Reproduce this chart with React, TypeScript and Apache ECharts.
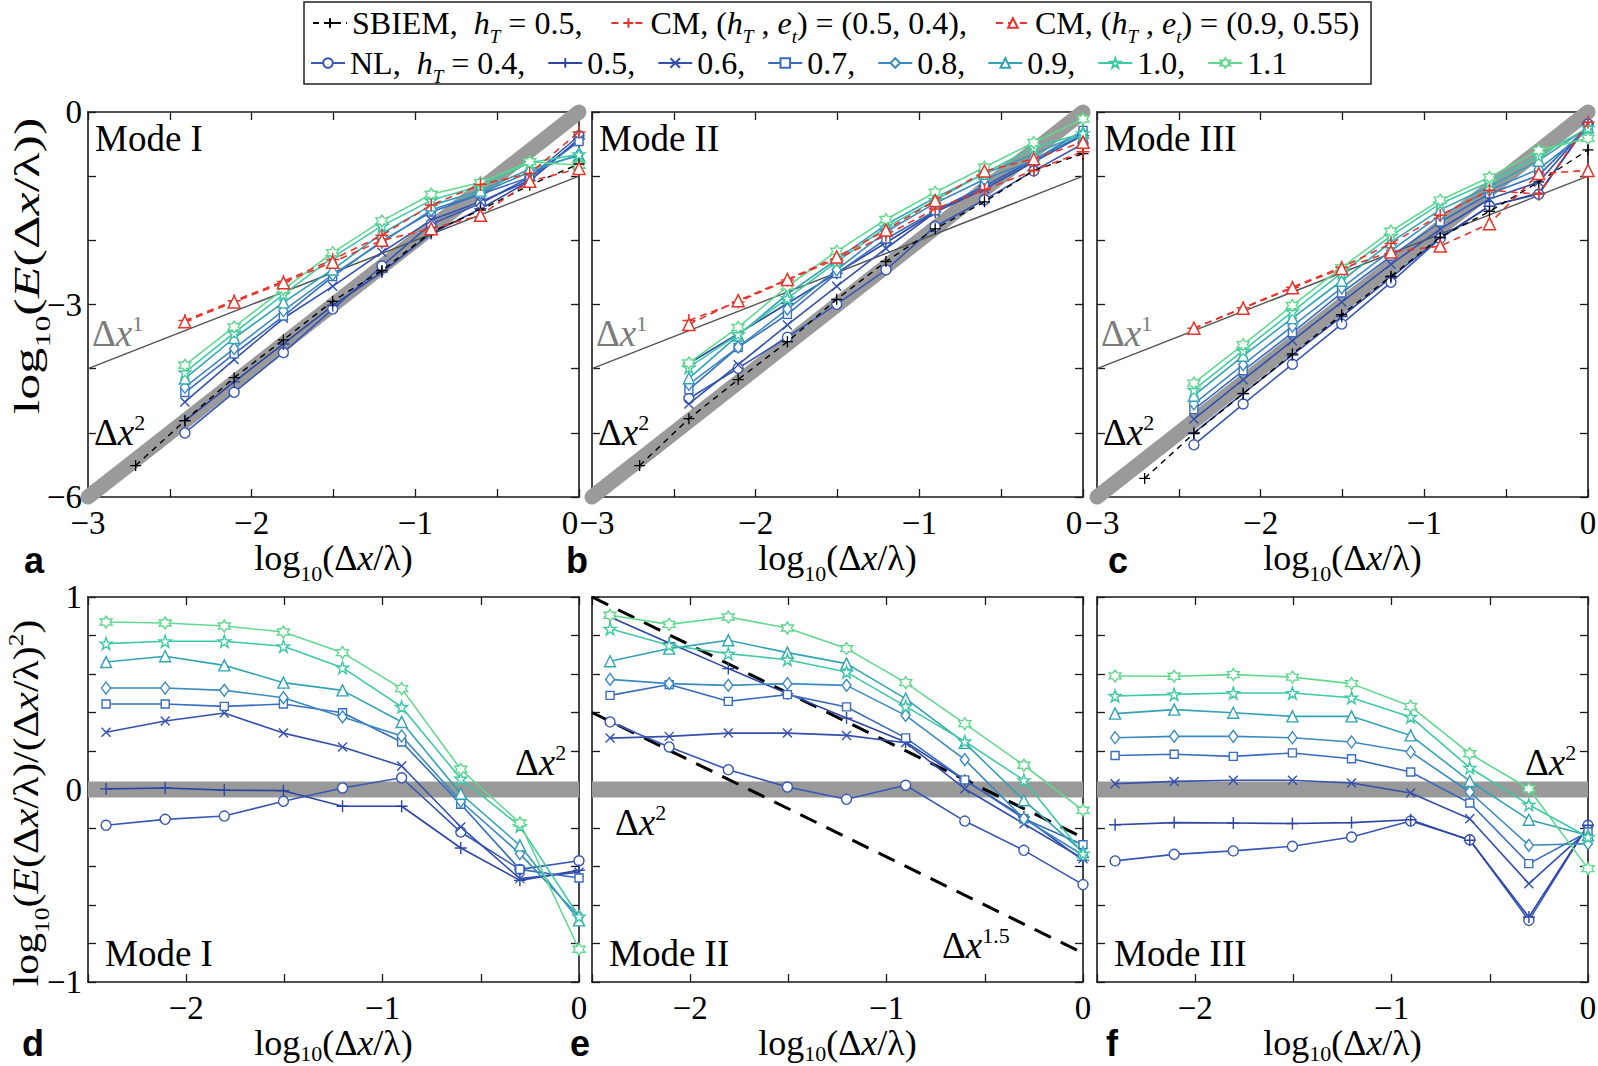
import React, { useEffect, useRef } from 'react';
import * as echarts from 'echarts';

const SERIF = "'Liberation Serif', 'Times New Roman', serif";
const SANS = "'Liberation Sans', Arial, sans-serif";

// x = log10(dx/lambda)
const xNL = [-2.408, -2.107, -1.806, -1.505, -1.204, -0.903, -0.602, -0.301, 0];
const xSBIEM = [-2.709, -2.408, -2.107, -1.806, -1.505, -1.204, -0.903, -0.602, -0.301, 0];

const hTLabels = ['0.4', '0.5', '0.6', '0.7', '0.8', '0.9', '1.0', '1.1'];

const normModeI = [
  [-0.186, -0.155, -0.138, -0.061, 0.008, 0.061, -0.221, -0.415, -0.37],
  [0.003, 0.008, -0.003, -0.006, -0.087, -0.087, -0.304, -0.472, -0.42],
  [0.297, 0.356, 0.397, 0.293, 0.221, 0.122, -0.195, -0.463, -0.43],
  [0.444, 0.444, 0.432, 0.444, 0.399, 0.247, -0.077, -0.415, -0.46],
  [0.527, 0.527, 0.515, 0.477, 0.377, 0.278, -0.061, -0.333, -0.66],
  [0.662, 0.692, 0.645, 0.555, 0.515, 0.351, -0.022, -0.29, -0.68],
  [0.758, 0.77, 0.77, 0.744, 0.633, 0.429, 0.056, -0.19, -0.66],
  [0.87, 0.865, 0.849, 0.818, 0.711, 0.524, 0.105, -0.174, -0.83],
];
const normModeII = [
  [0.351, 0.221, 0.103, 0.013, -0.051, 0.022, -0.164, -0.316, -0.494],
  [0.896, 0.761, 0.628, 0.498, 0.371, 0.247, 0.048, -0.143, -0.368],
  [0.267, 0.276, 0.293, 0.293, 0.281, 0.243, 0.004, -0.178, -0.36],
  [0.489, 0.545, 0.458, 0.493, 0.429, 0.268, 0.05, -0.152, -0.287],
  [0.572, 0.55, 0.541, 0.55, 0.541, 0.385, 0.155, -0.152, -0.34],
  [0.666, 0.732, 0.775, 0.711, 0.654, 0.472, 0.242, -0.056, -0.325],
  [0.835, 0.749, 0.706, 0.674, 0.61, 0.432, 0.25, 0.048, -0.333],
  [0.905, 0.858, 0.896, 0.839, 0.732, 0.555, 0.342, 0.126, -0.108],
];
const normModeIII = [
  [-0.371, -0.337, -0.319, -0.295, -0.247, -0.164, -0.261, -0.68, -0.186],
  [-0.183, -0.172, -0.174, -0.177, -0.172, -0.157, -0.264, -0.662, -0.186],
  [0.03, 0.042, 0.048, 0.048, 0.034, -0.018, -0.152, -0.489, -0.212],
  [0.177, 0.183, 0.172, 0.19, 0.16, 0.091, -0.07, -0.385, -0.221],
  [0.269, 0.276, 0.276, 0.269, 0.247, 0.195, -0.013, -0.29, -0.281],
  [0.394, 0.415, 0.399, 0.38, 0.38, 0.281, 0.044, -0.157, -0.238],
  [0.486, 0.494, 0.501, 0.501, 0.477, 0.377, 0.113, -0.079, -0.247],
  [0.59, 0.588, 0.597, 0.584, 0.55, 0.432, 0.186, 0.004, -0.411],
];

// log10(E) for SBIEM (hT = 0.5) and CM
const sbiemModeI = [-5.51, -4.81, -4.14, -3.55, -2.95, -2.47, -1.87, -1.53, -1.14, -0.81];
const sbiemModeII = [-5.51, -4.78, -4.17, -3.58, -2.92, -2.33, -1.82, -1.4, -0.91, -0.65];
const sbiemModeIII = [-5.71, -5.01, -4.39, -3.77, -3.16, -2.56, -1.95, -1.55, -1.09, -0.59];
const cmAModeI = [-3.25, -2.94, -2.64, -2.3, -1.92, -1.45, -1.13, -0.96, -0.31];
const cmAModeII = [-3.25, -2.96, -2.62, -2.29, -1.92, -1.51, -1.21, -0.91, -0.62];
const cmAModeIII = [-3.37, -3.05, -2.73, -2.42, -2.05, -1.61, -1.22, -1.28, -0.16];
const cmBModeI = [-3.27, -2.96, -2.66, -2.34, -2.0, -1.82, -1.61, -1.08, -0.88];
const cmBModeII = [-3.31, -2.94, -2.61, -2.26, -1.84, -1.38, -0.92, -0.73, -0.47];
const cmBModeIII = [-3.37, -3.06, -2.74, -2.44, -2.18, -2.09, -1.74, -0.96, -0.91];

// reference lines
const slope2Ref = [[-3, -6], [0, 0]];
const slope1Ref = [[-3, -4], [0, -1]];
const zeroRef = [[-2.5, 0], [0, 0]];
const slope15Upper = [[-2.5, 1.0], [0, -0.25]];
const slope15Lower = [[-2.5, 0.4], [0, -0.85]];

const modeNames = ['Mode I', 'Mode II', 'Mode III'];

const nlColors = ['#3757b4', '#2d46a3', '#3450ad', '#386cbe', '#3a8ac0', '#32a2b4', '#3ec9a6', '#62d88e'];
const nlSymbols = [
  'circle',
  'path://M5,0L5,10M0,5L10,5',
  'path://M0,0L10,10M0,10L10,0',
  'rect',
  'diamond',
  'triangle',
  'path://M50,0L61.8,35.3L99,35.3L69,57.1L80.3,92.4L50,70.6L19.7,92.4L31,57.1L1,35.3L38.2,35.3Z',
  'path://M50,0L64.4,25L93.3,25L78.9,50L93.3,75L64.4,75L50,100L35.6,75L6.7,75L21.1,50L6.7,25L35.6,25Z',
];
const nlSizes: any[] = [10, 12, 9, 8, [9, 12], 11, 12, 12];
const RED = '#e5352b';

const PANEL_LEFT = [88, 592, 1097];
const PW = 491;
const PH = 385;
const TOP_Y = 112;
const BOT_Y = 597;
const TICK_FS = 33;

function aRich(size: number, subPad = 0.85) {
  return {
    t: { fontFamily: SERIF, fontSize: size, color: '#000' },
    i: { fontFamily: SERIF, fontSize: size, fontStyle: 'italic', color: '#000' },
    sub: { fontFamily: SERIF, fontSize: Math.round(size * 0.6), color: '#000', padding: [Math.round(size * subPad), 0, 0, 0] },
    subi: { fontFamily: SERIF, fontSize: Math.round(size * 0.6), fontStyle: 'italic', color: '#000', padding: [Math.round(size * subPad), 0, 0, 0] },
    sup: { fontFamily: SERIF, fontSize: Math.round(size * 0.6), color: '#000', padding: [0, 0, Math.round(size * 0.55), 0] },
  };
}
function gRich(size: number, color = '#000') {
  return {
    t: { fontFamily: SERIF, fontSize: size, fill: color },
    i: { fontFamily: SERIF, fontSize: size, fontStyle: 'italic', fill: color },
    sub: { fontFamily: SERIF, fontSize: Math.round(size * 0.6), fill: color, padding: [Math.round(size * 0.85), 0, 0, 0] },
    sup: { fontFamily: SERIF, fontSize: Math.round(size * 0.6), fill: color, padding: [0, 0, Math.round(size * 0.55), 0] },
  };
}
const tickRich = {
  n: { fontFamily: SERIF, fontSize: TICK_FS, color: '#000' },
  r: { fontFamily: SERIF, fontSize: TICK_FS, color: '#000', padding: [0, 18, 0, 0] },
  l: { fontFamily: SERIF, fontSize: TICK_FS, color: '#000', padding: [0, 0, 0, 10] },
};

const fmtInt = (r: number) => (r < 0 ? '\u2212' + -r : String(r));
const makeXLabel = (shiftMax: boolean, shiftMin: boolean, xmin: number) => (v: number) => {
  const r = Math.round(v);
  if (Math.abs(v - r) > 1e-6) return '';
  if (shiftMax && r === 0) return '{r|' + fmtInt(r) + '}';
  if (shiftMin && r === xmin) return '{l|' + fmtInt(r) + '}';
  return '{n|' + fmtInt(r) + '}';
};
const intLabel = (v: number) => {
  const r = Math.round(v);
  if (Math.abs(v - r) > 1e-6) return '';
  return fmtInt(r);
};
const top3Label = (v: number) => {
  const r = Math.round(v);
  if (Math.abs(v - r) > 1e-6 || r % 3 !== 0) return '';
  return fmtInt(r);
};

const AXIS_COLOR = '#1a1a1a';

function buildOption() {
  const grid: any[] = [];
  const xAxis: any[] = [];
  const yAxis: any[] = [];
  const series: any[] = [];
  const graphic: any[] = [];

  for (let g = 0; g < 6; g++) {
    const isTop = g < 3;
    const col = g % 3;
    grid.push({
      left: PANEL_LEFT[col], top: isTop ? TOP_Y : BOT_Y, width: PW, height: PH,
      containLabel: false, outerBoundsMode: 'none',
    });
    const xmin = isTop ? -3 : -2.5;
    const common = {
      gridIndex: g,
      type: 'value',
      splitLine: { show: false },
      axisLine: { show: true, onZero: false, lineStyle: { color: AXIS_COLOR, width: 1.6 } },
      axisTick: { show: true, inside: true, length: 8, lineStyle: { color: AXIS_COLOR, width: 1.3 } },
    };
    xAxis.push({
      ...common,
      position: 'bottom',
      min: xmin,
      max: 0,
      interval: 0.5,
      axisLabel: {
        formatter: makeXLabel(isTop && col < 2, isTop && col > 0, xmin),
        fontFamily: SERIF,
        fontSize: TICK_FS,
        color: '#000',
        margin: 9,
        rich: tickRich,
      },
      name: '{t|log}{sub|10}{t|(\u0394}{i|x}{t|/\u03bb)}',
      nameLocation: 'middle',
      nameGap: isTop ? 34 : 25,
      nameTextStyle: { fontFamily: SERIF, fontSize: 36, rich: aRich(36, isTop ? 0.85 : 0.6) },
    });
    xAxis.push({ ...common, position: 'top', min: xmin, max: 0, interval: 0.5, axisLabel: { show: false } });
    yAxis.push({
      ...common,
      position: 'left',
      min: isTop ? -6 : -1,
      max: isTop ? 0 : 1,
      interval: isTop ? 1 : 0.2,
      axisLabel: {
        show: col === 0,
        formatter: isTop ? top3Label : intLabel,
        fontFamily: SERIF,
        fontSize: TICK_FS,
        color: '#000',
        margin: 6,
      },
    });
    yAxis.push({
      ...common,
      position: 'right',
      min: isTop ? -6 : -1,
      max: isTop ? 0 : 1,
      interval: isTop ? 1 : 0.2,
      axisLabel: { show: false },
    });

    const xi = g * 2;
    const yi = g * 2;
    const norm = [normModeI, normModeII, normModeIII][col];

    if (isTop) {
      series.push({
        type: 'line', xAxisIndex: xi, yAxisIndex: yi, data: slope2Ref, symbol: 'none', clip: false, silent: true, z: 1,
        lineStyle: { color: '#9a9a9a', width: 15, cap: 'round' },
      });
      series.push({
        type: 'line', xAxisIndex: xi, yAxisIndex: yi, data: slope1Ref, symbol: 'none', silent: true, z: 1,
        lineStyle: { color: '#555', width: 1.5 },
      });
    } else {
      series.push({
        type: 'line', xAxisIndex: xi, yAxisIndex: yi, data: zeroRef, symbol: 'none', silent: true, z: 1,
        lineStyle: { color: '#999', width: 16 },
      });
      if (col === 1) {
        [slope15Upper, slope15Lower].forEach((d) =>
          series.push({
            type: 'line', xAxisIndex: xi, yAxisIndex: yi, data: d, symbol: 'none', silent: true, z: 2,
            lineStyle: { color: '#000', width: 3, type: [18, 11] },
          })
        );
      }
    }

    for (let s = 0; s < 8; s++) {
      const data = xNL.map((x, k) => [x, isTop ? +(norm[s][k] + 2 * x).toFixed(3) : norm[s][k]]);
      series.push({
        type: 'line',
        name: 'NL ' + hTLabels[s],
        xAxisIndex: xi,
        yAxisIndex: yi,
        data,
        symbol: nlSymbols[s],
        symbolSize: nlSizes[s],
        z: 3,
        lineStyle: { color: nlColors[s], width: 1.6 },
        itemStyle: { color: '#fff', borderColor: nlColors[s], borderWidth: 1.4 },
        emphasis: { disabled: true },
      });
    }

    if (isTop) {
      const sb = [sbiemModeI, sbiemModeII, sbiemModeIII][col];
      const ca = [cmAModeI, cmAModeII, cmAModeIII][col];
      const cb = [cmBModeI, cmBModeII, cmBModeIII][col];
      series.push({
        type: 'line', name: 'SBIEM', xAxisIndex: xi, yAxisIndex: yi,
        data: xSBIEM.map((x, k) => [x, sb[k]]),
        symbol: nlSymbols[1], symbolSize: 11, z: 4,
        lineStyle: { color: '#000', width: 1.4, type: [6, 5] },
        itemStyle: { color: '#fff', borderColor: '#000', borderWidth: 1.3 },
        emphasis: { disabled: true },
      });
      series.push({
        type: 'line', name: 'CM A', xAxisIndex: xi, yAxisIndex: yi,
        data: xNL.map((x, k) => [x, ca[k]]),
        symbol: nlSymbols[1], symbolSize: 13, z: 4,
        lineStyle: { color: RED, width: 1.6, type: [7, 5] },
        itemStyle: { color: '#fff', borderColor: RED, borderWidth: 1.5 },
        emphasis: { disabled: true },
      });
      series.push({
        type: 'line', name: 'CM B', xAxisIndex: xi, yAxisIndex: yi,
        data: xNL.map((x, k) => [x, cb[k]]),
        symbol: 'triangle', symbolSize: 12, z: 4,
        lineStyle: { color: RED, width: 1.6, type: [7, 5] },
        itemStyle: { color: '#fff', borderColor: RED, borderWidth: 1.5 },
        emphasis: { disabled: true },
      });
    }
  }

  const legendText: Record<string, string> = {
    SBIEM: '{t|SBIEM,  }{i|h}{subi|T}{t| = 0.5,}',
    'CM A': '{t|CM, (}{i|h}{subi|T}{t| , }{i|e}{subi|t}{t|) = (0.5, 0.4),}',
    'CM B': '{t|CM, (}{i|h}{subi|T}{t| , }{i|e}{subi|t}{t|) = (0.9, 0.55)}',
    'NL 0.4': '{t|NL,  }{i|h}{subi|T}{t| = 0.4,}',
  };
  hTLabels.forEach((h, s) => {
    if (s > 0) legendText['NL ' + h] = '{t|' + h + (s < 7 ? ',' : '') + '}';
  });
  const legendBase = {
    orient: 'horizontal',
    padding: 0,
    itemWidth: 34,
    itemHeight: 12,
    selectedMode: false,
    formatter: (n: string) => legendText[n] || n,
    textStyle: { fontFamily: SERIF, fontSize: 32, color: '#000', rich: aRich(32) },
  };
  const legend = [
    { ...legendBase, data: ['SBIEM', 'CM A', 'CM B'], left: 312, top: 7, itemGap: 28 },
    { ...legendBase, data: hTLabels.map((h) => 'NL ' + h), left: 310, top: 47, itemGap: 22 },
  ];

  graphic.push({
    type: 'rect', silent: true,
    shape: { x: 304, y: 2, width: 1067, height: 82 },
    style: { fill: 'none', stroke: '#222', lineWidth: 1.5 },
  });

  for (let c = 0; c < 3; c++) {
    const L = PANEL_LEFT[c];
    graphic.push({ type: 'text', x: L + 7, y: 138, silent: true,
      style: { text: modeNames[c], fontFamily: SERIF, fontSize: 37, fill: '#000', verticalAlign: 'middle' } });
    graphic.push({ type: 'text', x: L + 4, y: 333, silent: true,
      style: { text: '{t|\u0394}{i|x}{sup|1}', rich: gRich(37, '#7a7a7a'), fontSize: 37, verticalAlign: 'middle' } });
    graphic.push({ type: 'text', x: L + 6, y: 432, silent: true,
      style: { text: '{t|\u0394}{i|x}{sup|2}', rich: gRich(37), fontSize: 37, verticalAlign: 'middle' } });
    graphic.push({ type: 'text', x: L + 17, y: 953, silent: true,
      style: { text: modeNames[c], fontFamily: SERIF, fontSize: 37, fill: '#000', verticalAlign: 'middle' } });
  }
  graphic.push({ type: 'text', x: 515, y: 762, silent: true,
    style: { text: '{t|\u0394}{i|x}{sup|2}', rich: gRich(37), fontSize: 37, verticalAlign: 'middle' } });
  graphic.push({ type: 'text', x: 1525, y: 762, silent: true,
    style: { text: '{t|\u0394}{i|x}{sup|2}', rich: gRich(37), fontSize: 37, verticalAlign: 'middle' } });
  graphic.push({ type: 'text', x: 615, y: 822, silent: true,
    style: { text: '{t|\u0394}{i|x}{sup|2}', rich: gRich(37), fontSize: 37, verticalAlign: 'middle' } });
  graphic.push({ type: 'text', x: 942, y: 945, silent: true,
    style: { text: '{t|\u0394}{i|x}{sup|1.5}', rich: gRich(37), fontSize: 37, verticalAlign: 'middle' } });

  const letters = [
    ['a', 24, 560], ['b', 566, 560], ['c', 1108, 560],
    ['d', 22, 1043], ['e', 570, 1043], ['f', 1106, 1043],
  ];
  letters.forEach(([t, x, y]) =>
    graphic.push({ type: 'text', x, y, silent: true,
      style: { text: t, fontFamily: SANS, fontWeight: 'bold', fontSize: 36, fill: '#000', verticalAlign: 'middle' } })
  );

  graphic.push({ type: 'text', x: 27, y: 266, rotation: Math.PI / 2, scaleX: 1.45, silent: true,
    style: { text: '{t|log}{sub|10}{t|(}{i|E}{t|(\u0394}{i|x}{t|/\u03bb))}', rich: gRich(36), fontSize: 36, align: 'center', verticalAlign: 'middle' } });
  graphic.push({ type: 'text', x: 26, y: 803, rotation: Math.PI / 2, scaleX: 1.16, silent: true,
    style: { text: '{t|log}{sub|10}{t|(}{i|E}{t|(\u0394}{i|x}{t|/\u03bb)/(\u0394}{i|x}{t|/\u03bb)}{sup|2}{t|)}', rich: gRich(36), fontSize: 36, align: 'center', verticalAlign: 'middle' } });

  return { animation: false, backgroundColor: '#fff', grid, xAxis, yAxis, series, legend, graphic };
}

export default function App() {
  const ref = useRef<HTMLDivElement>(null);
  useEffect(() => {
    const chart = echarts.init(ref.current!, null, { renderer: 'svg' });
    chart.setOption(buildOption() as any);
    return () => chart.dispose();
  }, []);
  return <div ref={ref} style={{ position: 'fixed', left: 0, top: 0, width: 1598, height: 1066, background: '#fff' }} />;
}
